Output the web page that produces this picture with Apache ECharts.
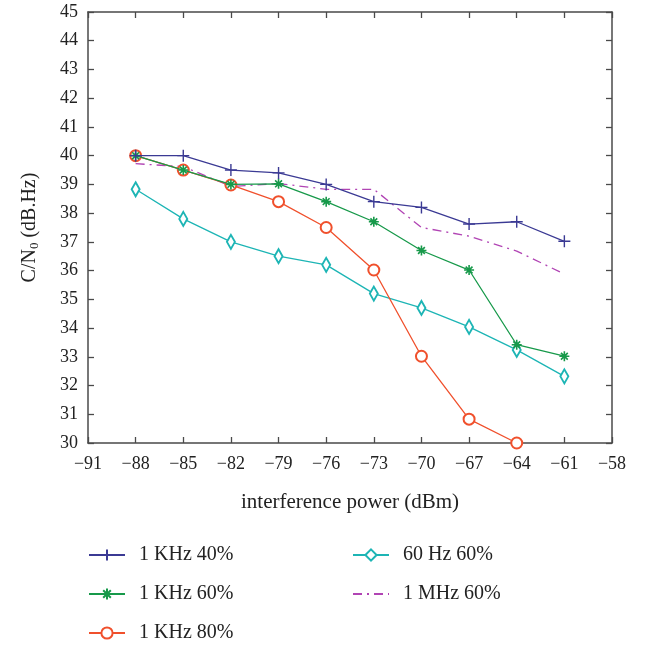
<!DOCTYPE html>
<html>
<head>
<meta charset="utf-8">
<script src="https://cdn.jsdelivr.net/npm/echarts@6/dist/echarts.min.js"></script>
<style>html,body{margin:0;padding:0;background:#fff}#c{width:654px;height:646px}</style>
</head>
<body>
<div id="c"></div>
<script>
var xValues = [-88, -85, -82, -79, -76, -73, -70, -67, -64, -61];
var khz40 = [40.0, 40.0, 39.5, 39.4, 39.0, 38.4, 38.2, 37.62, 37.7, 37.02];
var khz60 = [40.0, 39.5, 39.0, 39.02, 38.4, 37.7, 36.7, 36.02, 33.42, 33.02];
var khz80 = [40.0, 39.5, 38.98, 38.4, 37.5, 36.02, 33.02, 30.83, 30.0];
var hz60 = [38.83, 37.8, 37.0, 36.5, 36.2, 35.2, 34.7, 34.04, 33.24, 32.32];
var mhz60 = [39.72, 39.62, 38.93, 39.03, 38.83, 38.83, 37.5, 37.2, 36.68, 35.88];
var seriesNames = ['1 KHz 40%', '1 KHz 60%', '1 KHz 80%', '60 Hz 60%', '1 MHz 60%'];
var xTickMin = -91, xTickMax = -58, xTickStep = 3;
var yTickMin = 30, yTickMax = 45, yTickStep = 1;

function pairs(vals) { return vals.map(function (v, i) { return [xValues[i], v]; }); }

var serif = 'Liberation Serif';
var axisCol = '#4a4a4a';
var plusPath = 'path://M0,5L10,5M5,0L5,10';
var starPath = 'path://M0,5L10,5M5,0L5,10M1.6,1.6L8.4,8.4M1.6,8.4L8.4,1.6';

function axisCommon(extra) {
  var o = {
    type: 'value',
    axisLine: { show: true, lineStyle: { color: axisCol, width: 1.5 } },
    axisTick: { show: true, inside: true, length: 6, lineStyle: { color: axisCol, width: 1.3 } },
    splitLine: { show: false },
    axisLabel: { fontFamily: serif, fontSize: 18, color: '#222' }
  };
  for (var k in extra) o[k] = extra[k];
  return o;
}
function minusFmt(v) { return v < 0 ? '\u2212' + Math.abs(v) : String(v); }

var legendPos = [[88, 545], [88, 584], [88, 623], [352, 545], [352, 584]];
var legends = seriesNames.map(function (n, i) {
  var d = { name: n };
  if (i === 4) d.itemStyle = { opacity: 0 };
  return {
    orient: 'vertical', left: legendPos[i][0], top: legendPos[i][1], padding: 0,
    itemWidth: 36, itemHeight: 14, data: [d],
    textStyle: { fontFamily: serif, fontSize: 20, color: '#222', lineHeight: 20, padding: [0, 0, 0, 9] }
  };
});

var chart = echarts.init(document.getElementById('c'), null, { renderer: 'canvas' });
chart.setOption({
  animation: false,
  backgroundColor: '#fff',
  grid: { left: 88, right: 42, top: 12, bottom: 203, containLabel: false },
  xAxis: [
    axisCommon({ min: xTickMin, max: xTickMax, interval: xTickStep, position: 'bottom',
      name: 'interference power (dBm)', nameLocation: 'middle', nameGap: 49,
      nameTextStyle: { fontFamily: serif, fontSize: 21, color: '#222' },
      axisLabel: { fontFamily: serif, fontSize: 18, color: '#222', margin: 12, formatter: minusFmt } }),
    axisCommon({ min: xTickMin, max: xTickMax, interval: xTickStep, position: 'top',
      axisLabel: { show: false } })
  ],
  yAxis: [
    axisCommon({ min: yTickMin, max: yTickMax, interval: yTickStep, position: 'left',
      name: '{a|C/N}{s|0}{a| (dB.Hz)}', nameLocation: 'middle', nameGap: 47, nameRotate: 90,
      nameTextStyle: { rich: { a: { fontFamily: serif, fontSize: 20, color: '#222' },
        s: { fontFamily: serif, fontSize: 13, color: '#222', verticalAlign: 'bottom', padding: [9, 0, 0, 0] } } },
      axisLabel: { fontFamily: serif, fontSize: 18, color: '#222', margin: 10 } }),
    axisCommon({ min: yTickMin, max: yTickMax, interval: yTickStep, position: 'right',
      axisLabel: { show: false } })
  ],
  legend: legends,
  series: [
    { name: seriesNames[0], type: 'line', data: pairs(khz40), symbol: plusPath, symbolSize: 12,
      lineStyle: { color: '#3b3a94', width: 1.3 },
      itemStyle: { color: '#3b3a94', borderColor: '#3b3a94', borderWidth: 1.4 }, z: 5 },
    { name: seriesNames[1], type: 'line', data: pairs(khz60), symbol: starPath, symbolSize: 10,
      lineStyle: { color: '#17994a', width: 1.3 },
      itemStyle: { color: '#17994a', borderColor: '#17994a', borderWidth: 1.6 }, z: 4 },
    { name: seriesNames[2], type: 'line', data: pairs(khz80), symbol: 'emptyCircle', symbolSize: 11,
      lineStyle: { color: '#f0502c', width: 1.3 },
      itemStyle: { color: '#f0502c', borderColor: '#f0502c', borderWidth: 1.3 }, z: 3 },
    { name: seriesNames[3], type: 'line', data: pairs(hz60), symbol: 'emptyDiamond', symbolSize: [8, 14],
      lineStyle: { color: '#1db5b5', width: 1.3 },
      itemStyle: { color: '#1db5b5', borderColor: '#1db5b5', borderWidth: 1.2 }, z: 2 },
    { name: seriesNames[4], type: 'line', data: pairs(mhz60), symbol: 'none', showSymbol: false,
      lineStyle: { color: '#b144b4', width: 1.3, type: [9, 5, 2, 5] },
      itemStyle: { color: '#b144b4' }, z: 1 }
  ]
});
</script>
</body>
</html>
